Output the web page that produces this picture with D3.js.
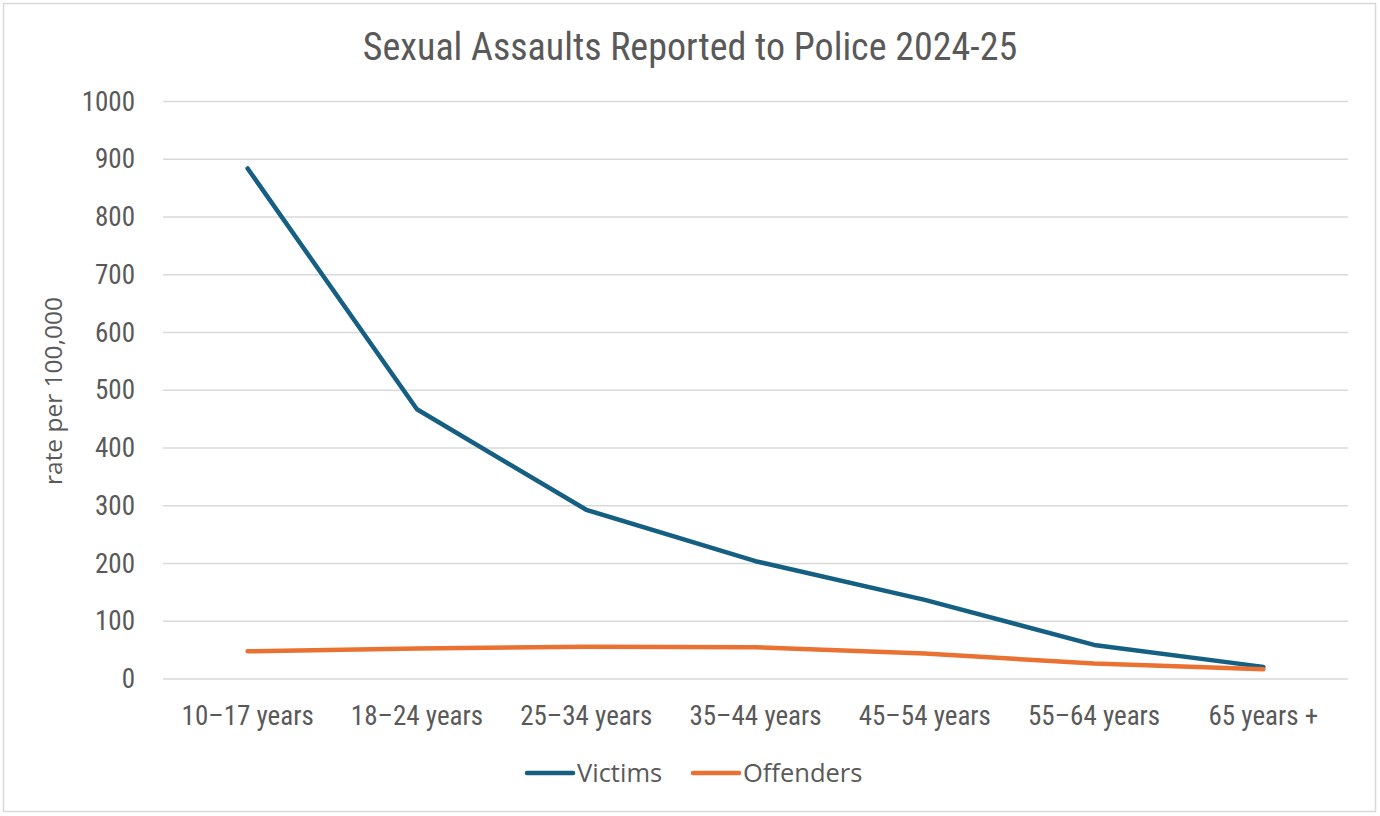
<!DOCTYPE html>
<html><head><meta charset="utf-8">
<script src="https://cdn.jsdelivr.net/npm/d3@7"></script>
<style>
body{margin:0;background:#fff;}
svg{display:block;}
</style></head>
<body>
<svg id="c" width="1380" height="816"></svg>
<script>
const categories = ["10–17 years","18–24 years","25–34 years","35–44 years","45–54 years","55–64 years","65 years +"];
const victims = [884, 467, 293, 204, 137, 59, 21];
const offenders = [48, 53, 56, 55, 44, 27, 17];
const yTicks = [0,100,200,300,400,500,600,700,800,900,1000];
const seriesNames = ["Victims","Offenders"];
const seriesColors = ["#156082","#E97132"];

(function(){
const svg = d3.select("#c");
const narrow = "'Liberation Sans Narrow', 'Roboto Condensed', 'Arial Narrow', sans-serif";
const regular = "'Open Sans', Roboto, sans-serif";
const textColor = "#595959";

svg.append("rect").attr("x",3.5).attr("y",3.5).attr("width",1372).attr("height",808)
  .attr("fill","#fff").attr("stroke","#d9d9d9").attr("stroke-width",1.5);

const pLeft = 163, pRight = 1348, pTop = 101.5, pBottom = 679;
const x = d3.scaleBand().domain(categories).range([pLeft,pRight]);
const y = d3.scaleLinear().domain([0,1000]).range([pBottom,pTop]);

svg.append("g").selectAll("line").data(yTicks).join("line")
  .attr("x1",pLeft).attr("x2",pRight)
  .attr("y1",d=>y(d)).attr("y2",d=>y(d))
  .attr("stroke","#d9d9d9").attr("stroke-width",1.3);

const yAxis = svg.append("g").attr("transform",`translate(${pLeft-28},0)`)
  .call(d3.axisLeft(y).tickValues(yTicks).tickFormat(d3.format("d")).tickSize(0).tickPadding(0));
yAxis.select(".domain").remove();
yAxis.selectAll("text").attr("font-family",narrow).attr("font-size",27).attr("fill",textColor);

const xAxis = svg.append("g").attr("transform",`translate(0,${pBottom+22})`)
  .call(d3.axisBottom(x).tickSize(0).tickPadding(0));
xAxis.select(".domain").remove();
xAxis.selectAll("text").attr("font-family",narrow).attr("font-size",27).attr("fill",textColor)
  .attr("dy","0.9em");

svg.append("text").attr("x",690).attr("y",60).attr("text-anchor","middle")
  .attr("font-family",narrow).attr("font-size",38).attr("fill",textColor)
  .text("Sexual Assaults Reported to Police 2024-25");

svg.append("text").attr("transform",`translate(62,391) rotate(-90)`).attr("text-anchor","middle")
  .attr("font-family",regular).attr("font-size",24.5).attr("fill",textColor)
  .text("rate per 100,000");

const line = d3.line().x((d,i)=>x(categories[i])+x.bandwidth()/2).y(d=>y(d));
[victims, offenders].forEach((s,k)=>{
  svg.append("path").datum(s).attr("d",line).attr("fill","none")
    .attr("stroke",seriesColors[k]).attr("stroke-width",4.5)
    .attr("stroke-linejoin","round").attr("stroke-linecap","round");
});

const legendX = [527, 693];
seriesNames.forEach((n,k)=>{
  const g = svg.append("g").attr("transform",`translate(${legendX[k]},773)`);
  g.append("line").attr("x1",0).attr("x2",46).attr("y1",0).attr("y2",0)
    .attr("stroke",seriesColors[k]).attr("stroke-width",4.5).attr("stroke-linecap","round");
  g.append("text").attr("x",50).attr("y",0).attr("dy","0.35em")
    .attr("font-family",regular).attr("font-size",25.5).attr("fill",textColor).text(n);
});
})();
</script>
</body></html>
